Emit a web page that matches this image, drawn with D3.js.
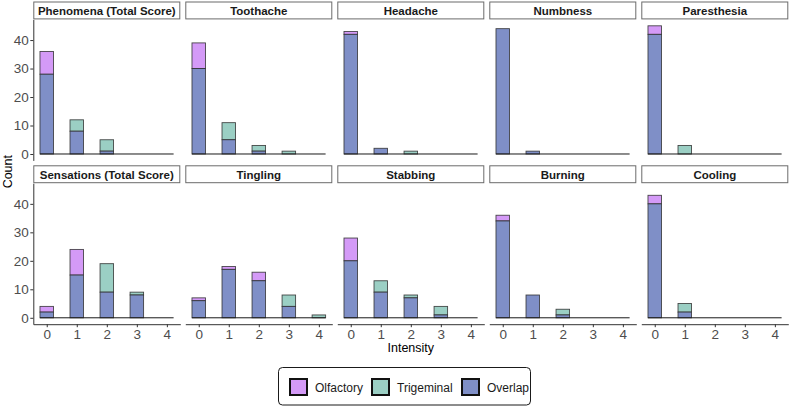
<!DOCTYPE html>
<html>
<head>
<meta charset="utf-8">
<script src="https://cdn.jsdelivr.net/npm/d3@7"></script>
<style>
  body { margin: 0; background: #fff; }
  svg { font-family: "Liberation Sans", Arial, Helvetica, sans-serif; }
</style>
</head>
<body>
<svg id="chart" width="790" height="407"></svg>
<script>
// panel titles, in facet order (row by row)
const panels = [
  "Phenomena (Total Score)", "Toothache", "Headache", "Numbness", "Paresthesia",
  "Sensations (Total Score)", "Tingling", "Stabbing", "Burning", "Cooling"
];
const intensity = [0, 1, 2, 3, 4];

// counts per panel, per intensity 0..4
const olfactory = [
  [36, 8, 1, 0, 0],
  [39, 5, 1, 0, 0],
  [43, 2, 0, 0, 0],
  [44, 1, 0, 0, 0],
  [45, 0, 0, 0, 0],
  [4, 24, 9, 8, 0],
  [7, 18, 16, 4, 0],
  [28, 9, 7, 1, 0],
  [36, 8, 1, 0, 0],
  [43, 2, 0, 0, 0]
];
const trigeminal = [
  [28, 12, 5, 0, 0],
  [30, 11, 3, 1, 0],
  [42, 2, 1, 0, 0],
  [44, 1, 0, 0, 0],
  [42, 3, 0, 0, 0],
  [2, 15, 19, 9, 0],
  [6, 17, 13, 8, 1],
  [20, 13, 8, 4, 0],
  [34, 8, 3, 0, 0],
  [40, 5, 0, 0, 0]
];
const overlap = [
  [28, 8, 1, 0, 0],
  [30, 5, 1, 0, 0],
  [42, 2, 0, 0, 0],
  [44, 1, 0, 0, 0],
  [42, 0, 0, 0, 0],
  [2, 15, 9, 8, 0],
  [6, 17, 13, 4, 0],
  [20, 9, 7, 1, 0],
  [34, 8, 1, 0, 0],
  [40, 2, 0, 0, 0]
];

const yTicks = [0, 10, 20, 30, 40];
const xTicks = [0, 1, 2, 3, 4];
const seriesNames = ["Olfactory", "Trigeminal", "Overlap"];
const seriesColors = ["#d49af7", "#9bcfc4", "#7f8fc7"];

const svg = d3.select("#chart");
const color = d3.scaleOrdinal().domain(seriesNames).range(seriesColors);

const panelLeft = 33.3, panelStep = 152, pw = 147;
const rowTop = [19.4, 183.2], ph = 141, stripH = 17.4;
const barW = 0.45;

const x = d3.scaleLinear().domain([-0.4475, 4.4475]).range([0, pw]);
const y = d3.scaleLinear().domain([-2.25, 47.25]).range([ph, 0]);

panels.forEach((name, i) => {
  const row = Math.floor(i / 5), col = i % 5;
  const g = svg.append("g")
    .attr("transform", `translate(${panelLeft + col * panelStep},${rowTop[row]})`);

  // strip
  g.append("rect")
    .attr("x", 0.5).attr("y", -stripH)
    .attr("width", pw - 1).attr("height", stripH - 0.5)
    .attr("fill", "#fff").attr("stroke", "#6b6b6b").attr("stroke-width", 1);
  g.append("text")
    .attr("x", pw / 2).attr("y", -stripH / 2 + 4)
    .attr("text-anchor", "middle")
    .style("font-size", "11.5px").style("font-weight", "bold")
    .attr("fill", "#1a1a1a")
    .text(name);

  // build segments
  const segs = [];
  intensity.forEach((k, j) => {
    const ov = overlap[i][j], o = olfactory[i][j], t = trigeminal[i][j];
    if (o > ov) segs.push({ k, lo: ov, hi: o, s: "Olfactory" });
    if (t > ov) segs.push({ k, lo: ov, hi: t, s: "Trigeminal" });
    if (ov > 0) segs.push({ k, lo: 0, hi: ov, s: "Overlap" });
  });

  g.selectAll(".bar")
    .data(segs)
    .join("rect")
    .classed("bar", true)
    .attr("x", d => x(d.k - barW / 2))
    .attr("width", x(barW) - x(0))
    .attr("y", d => y(d.hi))
    .attr("height", d => y(d.lo) - y(d.hi))
    .attr("fill", d => color(d.s))
    .attr("stroke", "#2b2b2b")
    .attr("stroke-opacity", 0.85)
    .attr("stroke-width", 0.9);

  // zero line across the bars
  g.append("line")
    .attr("x1", x(-barW / 2)).attr("x2", x(4 + barW / 2))
    .attr("y1", y(0)).attr("y2", y(0))
    .attr("stroke", "#1a1a1a").attr("stroke-width", 1);

  if (col === 0) {
    const yAxis = d3.axisLeft(y).tickValues(yTicks).tickSize(3).tickSizeOuter(0)
      .tickPadding(1.5).tickFormat(d3.format("d"));
    const ya = g.append("g").call(yAxis);
    ya.select(".domain").attr("stroke", "#333").attr("stroke-width", 1);
    ya.selectAll(".tick line").attr("stroke", "#333");
    ya.selectAll(".tick text").attr("fill", "#4d4d4d").style("font-size", "13.5px");
  }
  if (row === 1) {
    const xAxis = d3.axisBottom(x).tickValues(xTicks).tickSize(3).tickSizeOuter(0)
      .tickPadding(2).tickFormat(d3.format("d"));
    const xa = g.append("g").attr("transform", `translate(0,${ph})`).call(xAxis);
    xa.select(".domain").attr("stroke", "#333").attr("stroke-width", 1);
    xa.selectAll(".tick line").attr("stroke", "#333");
    xa.selectAll(".tick text").attr("fill", "#4d4d4d").style("font-size", "13.5px");
  }
});

// axis titles
svg.append("text")
  .attr("transform", `translate(12,171.7) rotate(-90)`)
  .attr("text-anchor", "middle")
  .style("font-size", "12.5px")
  .text("Count");
svg.append("text")
  .attr("x", 410.8).attr("y", 352)
  .attr("text-anchor", "middle")
  .style("font-size", "12.5px")
  .text("Intensity");

// legend
const lg = svg.append("g");
lg.append("rect")
  .attr("x", 278.5).attr("y", 367.5).attr("width", 252).attr("height", 37.5)
  .attr("rx", 4).attr("fill", "#fff").attr("stroke", "#1a1a1a").attr("stroke-width", 1);
const keyX = [290, 372, 462];
seriesNames.forEach((s, i) => {
  lg.append("rect")
    .attr("x", keyX[i]).attr("y", 379)
    .attr("width", 17).attr("height", 16)
    .attr("fill", color(s)).attr("stroke", "#111").attr("stroke-width", 2);
  lg.append("text")
    .attr("x", keyX[i] + 25).attr("y", 391.5)
    .style("font-size", "12px")
    .attr("fill", "#1a1a1a")
    .text(s);
});
</script>
</body>
</html>
